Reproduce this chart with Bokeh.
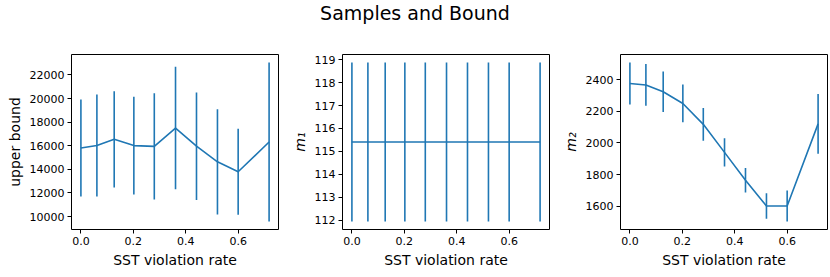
from bokeh.plotting import figure
from bokeh.models import ColumnDataSource, Range1d, FixedTicker, PrintfTickFormatter, Div
from bokeh.layouts import row, column
from bokeh.embed import file_html
from bokeh.resources import INLINE

# ---- data ----
violation_rate = [0.0, 0.061, 0.127, 0.202, 0.280, 0.361, 0.441, 0.521, 0.600, 0.718]

bound_mean = [15816, 16020, 16545, 16014, 15950, 17500, 15965, 14640, 13800, 16320]
bound_err = [4114, 4327, 4071, 4142, 4497, 5192, 4554, 4454, 3632, 6738]

m1_mean = [115.41, 115.41, 115.41, 115.41, 115.41, 115.41, 115.41, 115.41, 115.41, 115.41]
m1_err = [3.47, 3.47, 3.47, 3.47, 3.47, 3.47, 3.47, 3.47, 3.47, 3.47]

m2_mean = [2375, 2366, 2323, 2249, 2117, 1940, 1764, 1601, 1601, 2120]
m2_err = [133, 132, 128, 119, 104, 89, 77, 80, 98, 189]

x_ticks = [0.0, 0.2, 0.4, 0.6]
bound_ticks = [10000, 12000, 14000, 16000, 18000, 20000, 22000]
m1_ticks = [112, 113, 114, 115, 116, 117, 118, 119]
m2_ticks = [1600, 1800, 2000, 2200, 2400]

title_text = "Samples and Bound"
x_label = "SST violation rate"
y_labels = ["upper bound", "m\u2081", "m\u2082"]

COLOR = "#1f77b4"
FONT = "DejaVu Sans"


def padded(lo, hi, frac=0.05):
    span = hi - lo
    return Range1d(lo - frac * span, hi + frac * span)


def make_panel(mean, err, yticks, ylabel, border_left, border_right, italic=False):
    lower = [m - e for m, e in zip(mean, err)]
    upper = [m + e for m, e in zip(mean, err)]
    src = ColumnDataSource(dict(x=violation_rate, y=mean, lo=lower, hi=upper))
    p = figure(
        frame_width=207, frame_height=175,
        min_border_left=border_left, min_border_right=border_right,
        min_border_top=4, min_border_bottom=48,
        output_backend="svg", toolbar_location=None,
        x_range=padded(min(violation_rate), max(violation_rate)),
        y_range=padded(min(lower), max(upper)),
    )
    p.segment(x0="x", y0="lo", x1="x", y1="hi", source=src, line_color=COLOR, line_width=1.6)
    p.line(x="x", y="y", source=src, line_color=COLOR, line_width=1.6)

    p.grid.visible = False
    p.outline_line_color = "black"
    p.outline_line_width = 1
    p.outline_line_alpha = 1
    p.background_fill_color = "white"
    p.border_fill_color = "white"

    p.xaxis.ticker = FixedTicker(ticks=x_ticks)
    p.xaxis.formatter = PrintfTickFormatter(format="%.1f")
    p.yaxis.ticker = FixedTicker(ticks=yticks)
    p.yaxis.formatter = PrintfTickFormatter(format="%d")
    for ax in (p.xaxis, p.yaxis):
        ax.axis_line_color = None
        ax.major_tick_out = 4
        ax.major_tick_in = 0
        ax.minor_tick_out = 0
        ax.minor_tick_in = 0
        ax.major_tick_line_color = "black"
        ax.major_label_text_font = FONT
        ax.major_label_text_font_size = "11px"
        ax.major_label_text_color = "black"
        ax.axis_label_text_font = FONT
        ax.axis_label_text_font_size = "14px"
        ax.axis_label_text_color = "black"
        ax.axis_label_text_font_style = "normal"
        ax.major_label_standoff = 3
        ax.axis_label_standoff = 4
    p.xaxis.axis_label = x_label
    p.yaxis.axis_label = ylabel
    if italic:
        p.yaxis.axis_label_text_font_style = "italic"
    return p


p1 = make_panel(bound_mean, bound_err, bound_ticks, y_labels[0], 71, 10)
p2 = make_panel(m1_mean, m1_err, m1_ticks, y_labels[1], 54, 10, italic=True)
p3 = make_panel(m2_mean, m2_err, m2_ticks, y_labels[2], 55, 9, italic=True)

title = Div(
    text=f"<div style='width:830px;text-align:center;font-family:\"DejaVu Sans\";font-size:19px;line-height:19px;padding-top:4px;color:black'>{title_text}</div>",
    width=830, height=50, margin=0,
)

layout = column(title, row(p1, p2, p3, margin=0, spacing=0), margin=0, spacing=0)

open("out.html", "w").write(file_html(layout, INLINE))
